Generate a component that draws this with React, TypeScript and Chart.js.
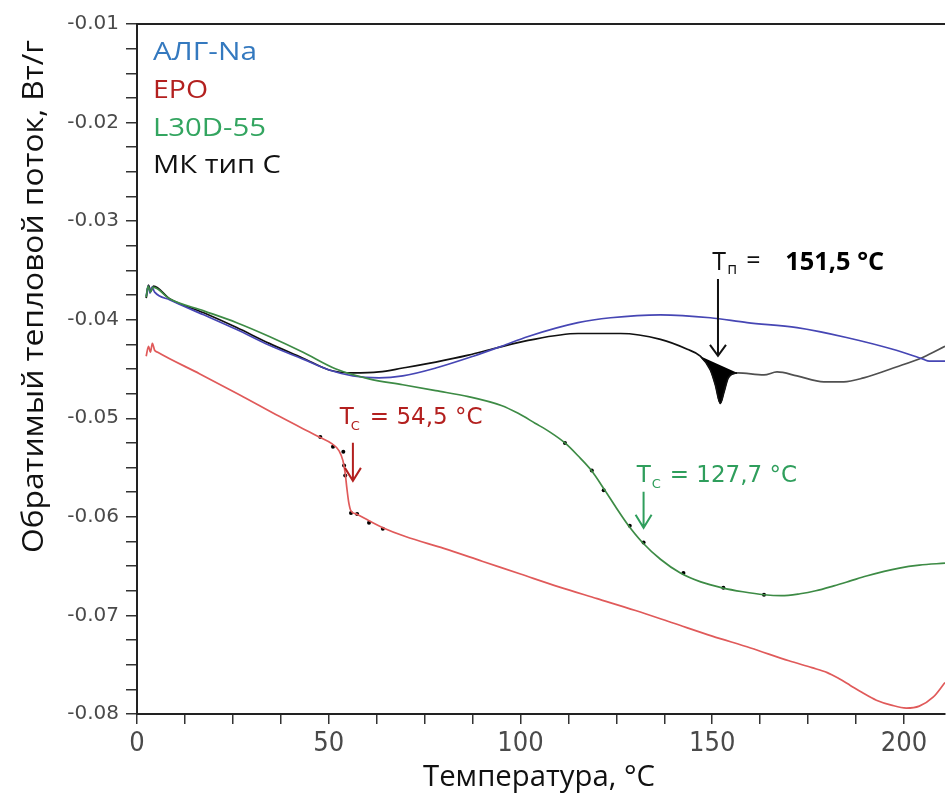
import React, { useEffect, useRef } from "react";
import { Chart, registerables } from "chart.js";

Chart.register(...registerables);

// ---------- data (temperature °C / reversing heat flow W/g) ----------
const algNaT = [2.4, 2.9, 3.4, 3.9, 4.6, 8.6, 17.4, 26.0, 34.5, 43.3, 50.1, 56.3, 63.1, 69.3, 77.9, 87.7, 95.0, 102.0, 115.0, 123.5, 136.5, 149.5, 159.1, 172.1, 185.0, 198.0, 205.0, 206.6, 210.7];
const algNaQ = [-0.0376, -0.0366, -0.0373, -0.0367, -0.0372, -0.0380, -0.0395, -0.0410, -0.0426, -0.0440, -0.0451, -0.0457, -0.0459, -0.0457, -0.0449, -0.0437, -0.0427, -0.0417, -0.0403, -0.0398, -0.0395, -0.0398, -0.0403, -0.0408, -0.0418, -0.0431, -0.0440, -0.0442, -0.0442];

const epoT = [2.4, 3.0, 3.5, 4.0, 4.6, 5.4, 16.4, 26.7, 37.1, 45.0, 47.5, 50.9, 52.7, 53.7, 54.3, 54.7, 55.2, 55.8, 57.1, 60.5, 64.1, 70.0, 80.0, 90.0, 100.0, 110.0, 120.0, 130.0, 140.0, 150.0, 160.0, 170.0, 176.0, 180.0, 183.0, 186.0, 189.0, 192.8, 196.7, 200.6, 204.0, 207.6, 210.7];
const epoQ = [-0.0437, -0.0427, -0.0433, -0.0424, -0.0431, -0.0433, -0.0455, -0.0476, -0.0498, -0.0514, -0.0519, -0.0526, -0.0533, -0.0543, -0.0556, -0.0570, -0.0585, -0.0594, -0.0597, -0.0604, -0.0611, -0.0620, -0.0632, -0.0645, -0.0658, -0.0671, -0.0683, -0.0695, -0.0708, -0.0721, -0.0733, -0.0746, -0.0753, -0.0758, -0.0764, -0.0771, -0.0778, -0.0786, -0.0791, -0.0794, -0.0792, -0.0783, -0.0768];

const l30T = [2.4, 2.9, 3.5, 4.2, 8.6, 17.4, 26.0, 34.5, 43.3, 51.9, 60.5, 69.3, 77.9, 86.4, 95.0, 99.4, 103.8, 107.7, 111.6, 115.0, 118.3, 122.0, 125.0, 128.0, 131.8, 136.5, 141.7, 147.0, 152.6, 158.0, 163.5, 168.0, 172.9, 177.0, 181.7, 186.0, 190.2, 198.8, 204.0, 210.7];
const l30Q = [-0.0377, -0.0366, -0.0372, -0.0367, -0.0379, -0.0391, -0.0403, -0.0417, -0.0433, -0.0450, -0.0460, -0.0466, -0.0472, -0.0478, -0.0487, -0.0495, -0.0505, -0.0514, -0.0525, -0.0538, -0.0552, -0.0573, -0.0591, -0.0608, -0.0626, -0.0643, -0.0657, -0.0666, -0.0672, -0.0676, -0.0679, -0.0680, -0.0678, -0.0675, -0.0670, -0.0665, -0.0660, -0.0652, -0.0649, -0.0647];

const mkT = [2.4, 3.0, 3.6, 4.3, 8.6, 17.4, 26.0, 34.5, 43.3, 50.1, 56.3, 63.1, 69.3, 77.9, 86.4, 93.4, 102.0, 115.0, 126.1, 136.5, 143.5, 146.9, 149.5, 150.8, 152.1, 153.1, 154.2, 156.6, 163.5, 166.9, 172.1, 179.1, 184.3, 189.5, 198.0, 205.0, 210.7];
const mkQ = [-0.0378, -0.0365, -0.0371, -0.0366, -0.0379, -0.0393, -0.0408, -0.0424, -0.0439, -0.0451, -0.0454, -0.0453, -0.0449, -0.0443, -0.0436, -0.0429, -0.0421, -0.0414, -0.0414, -0.0420, -0.0430, -0.0437, -0.0451, -0.0466, -0.0485, -0.0473, -0.0459, -0.0454, -0.0456, -0.0453, -0.0457, -0.0463, -0.0463, -0.0459, -0.0448, -0.0438, -0.0427];

// melting peak of МК тип С (filled)
const dipT = [146.9, 149.5, 150.8, 152.1, 153.1, 154.2, 156.6];
const dipQ = [-0.0437, -0.0451, -0.0466, -0.0485, -0.0473, -0.0459, -0.0454];

// analysis markers
const epoDotT = [47.8, 51.1, 53.8, 54.0, 54.3, 55.8, 57.4, 60.5, 64.1];
const epoDotQ = [-0.0519, -0.0529, -0.0534, -0.0548, -0.0558, -0.0596, -0.0597, -0.0606, -0.0612];
const l30DotT = [111.6, 118.6, 121.7, 128.5, 132.1, 142.5, 152.9, 163.5];
const l30DotQ = [-0.0525, -0.0553, -0.0573, -0.0609, -0.0626, -0.0657, -0.0672, -0.0679];

const seriesNames = ["АЛГ-Na", "EPO", "L30D-55", "МК тип С"];
const seriesTextColors = ["#3479bf", "#b3201f", "#33a560", "#111111"];

// annotations: [label x, label y, arrow x, arrow y start, arrow y end]
const tmLabel = [150.0, -0.03495, 151.5, -0.03586, -0.04367];
const tcEpo = [52.9, -0.05057, 56.3, -0.05249, -0.05635];
const tcL30 = [130.3, -0.05645, 132.1, -0.05746, -0.06111];

const xMin = 0, xMax = 210.7, yMin = -0.08, yMax = -0.01;

const pts = (xs: number[], ys: number[]) => xs.map((x, i) => ({ x, y: ys[i] }));

function text(ctx: CanvasRenderingContext2D, s: string, x: number, y: number, font: string, color: string, targetW?: number) {
  ctx.save();
  ctx.font = font;
  ctx.fillStyle = color;
  ctx.textAlign = "left";
  ctx.textBaseline = "alphabetic";
  const w = ctx.measureText(s).width;
  ctx.translate(x, y);
  if (targetW) ctx.scale(targetW / w, 1);
  ctx.fillText(s, 0, 0);
  ctx.restore();
  return targetW ?? w;
}

function arrow(ctx: CanvasRenderingContext2D, x: number, y1: number, y2: number, color: string, hw: number, hl: number) {
  ctx.save();
  ctx.strokeStyle = color;
  ctx.lineWidth = 2;
  ctx.beginPath();
  ctx.moveTo(x, y1);
  ctx.lineTo(x, y2);
  ctx.moveTo(x - hw, y2 - hl);
  ctx.lineTo(x, y2);
  ctx.lineTo(x + hw, y2 - hl);
  ctx.stroke();
  ctx.restore();
}

export default function App() {
  const ref = useRef<HTMLCanvasElement>(null);
  useEffect(() => {
    document.body.style.margin = "0";
    const canvas = ref.current!;

    const overlay = {
      id: "overlay",
      afterDraw(chart: any) {
        const { ctx, chartArea: a, scales } = chart;
        const xs = scales.x, ys = scales.y;
        ctx.save();
        // top frame line
        ctx.strokeStyle = "#222";
        ctx.lineWidth = 2;
        ctx.beginPath();
        ctx.moveTo(a.left, a.top);
        ctx.lineTo(a.right, a.top);
        ctx.stroke();

        // legend text
        const legW = [104, 55, 113, 128];
        const legY = [60, 98, 136, 173];
        seriesNames.forEach((n, i) => text(ctx, n, a.left + 16, legY[i], '26px "Open Sans"', seriesTextColors[i], legW[i]));

        // y title
        ctx.save();
        const yt = "Обратимый тепловой поток, Вт/г";
        ctx.translate(43, 553);
        ctx.rotate(-Math.PI / 2);
        text(ctx, yt, 0, 0, '30px "Open Sans"', "#111", 513);
        ctx.restore();

        // x title
        text(ctx, "Температура, °C", 423, 786, '30px "Open Sans"', "#111", 232);

        // melting annotation
        {
          const lx = xs.getPixelForValue(tmLabel[0]);
          const ly = ys.getPixelForValue(tmLabel[1]);
          text(ctx, "T", lx, ly, '25px "Open Sans"', "#111");
          text(ctx, "п", lx + 15, ly + 4, '16px "Open Sans"', "#111");
          text(ctx, "=", lx + 34, ly - 1, '25px "Open Sans"', "#111");
          text(ctx, "151,5 °C", lx + 73, ly, 'bold 25px "Open Sans"', "#000", 99);
          const ax = xs.getPixelForValue(tmLabel[2]);
          arrow(ctx, ax, ys.getPixelForValue(tmLabel[3]), ys.getPixelForValue(tmLabel[4]), "#111", 8, 11);
        }
        // glass transition annotations
        const tc = (d: number[], color: string, rest: string, subDx: number, restDx: number) => {
          const lx = xs.getPixelForValue(d[0]);
          const ly = ys.getPixelForValue(d[1]);
          text(ctx, "T", lx, ly, '23px "DejaVu Sans"', color);
          text(ctx, "C", lx + subDx, ly + 6, '13px "DejaVu Sans"', color);
          text(ctx, rest, lx + restDx, ly, '23px "DejaVu Sans"', color);
          const ax = xs.getPixelForValue(d[2]);
          arrow(ctx, ax, ys.getPixelForValue(d[3]), ys.getPixelForValue(d[4]), color, 8, 13);
        };
        tc(tcEpo, "#b3201f", "= 54,5 °C", 11, 30);
        tc(tcL30, "#2f9e5c", "= 127,7 °C", 15, 33);
        ctx.restore();
      },
    };

    const common = { pointRadius: 0, borderWidth: 1.7, fill: false, cubicInterpolationMode: "monotone" as const };

    const chart = new Chart(canvas, {
      type: "line",
      data: {
        datasets: [
          { ...common, label: "EPO", data: pts(epoT, epoQ), borderColor: "#e05a5a" },
          { ...common, label: "L30D-55", data: pts(l30T, l30Q), borderColor: "#3d8b45" },
          { ...common, label: "АЛГ-Na", data: pts(algNaT, algNaQ), borderColor: "#4646b4" },
          {
            ...common,
            label: "МК тип С",
            data: pts(mkT, mkQ),
            borderColor: "#111",
            segment: { borderColor: (c: any) => (c.p0.parsed.x >= 156 ? "#505050" : "#111") },
          },
          { ...common, label: "peak", data: pts(dipT, dipQ), borderColor: "#000", backgroundColor: "#000", borderWidth: 1, fill: "shape" },
          { label: "dots1", data: pts(epoDotT, epoDotQ), showLine: false, pointRadius: 2, pointBorderWidth: 0, pointBackgroundColor: "#000" },
          { label: "dots2", data: pts(l30DotT, l30DotQ), showLine: false, pointRadius: 2, pointBorderWidth: 0, pointBackgroundColor: "#000" },
        ] as any,
      },
      options: {
        responsive: false,
        animation: false,
        devicePixelRatio: 1,
        events: [],
        layout: { padding: { top: 24, right: 0, left: 0, bottom: 0 } },
        plugins: { legend: { display: false }, tooltip: { enabled: false }, title: { display: false } },
        scales: {
          x: {
            type: "linear",
            min: xMin,
            max: xMax,
            afterFit: (s: any) => { s.height = 79; },
            ticks: {
              stepSize: 12.5,
              includeBounds: false,
              autoSkip: false,
              maxRotation: 0,
              minRotation: 0,
              padding: 4,
              color: "#4a4a4a",
              font: { family: "'Liberation Sans Narrow', 'DejaVu Sans Condensed', 'Liberation Sans'", size: 27 },
              callback: (v: any) => (Math.abs(v % 50) < 1e-6 ? String(v) : ""),
            },
            grid: { drawOnChartArea: false, drawTicks: true, tickLength: 10, color: "#333", lineWidth: 1.5 },
            border: { display: true, color: "#222", width: 2 },
          },
          y: {
            type: "linear",
            min: yMin,
            max: yMax,
            afterFit: (s: any) => { s.width = 137; },
            ticks: {
              stepSize: 0.0025,
              includeBounds: false,
              autoSkip: false,
              padding: 7,
              color: "#4a4a4a",
              font: { family: "'DejaVu Sans'", size: 20 },
              callback: (v: any) => (Math.abs(Math.round(v * 100) - v * 100) < 1e-6 ? Number(v).toFixed(2) : ""),
            },
            grid: { drawOnChartArea: false, drawTicks: true, tickLength: 11, color: "#333", lineWidth: 1.5 },
            border: { display: true, color: "#222", width: 2 },
          },
        },
      } as any,
      plugins: [overlay],
    });
    return () => chart.destroy();
  }, []);
  return <canvas ref={ref} width={949} height={793} style={{ display: "block" }} />;
}
